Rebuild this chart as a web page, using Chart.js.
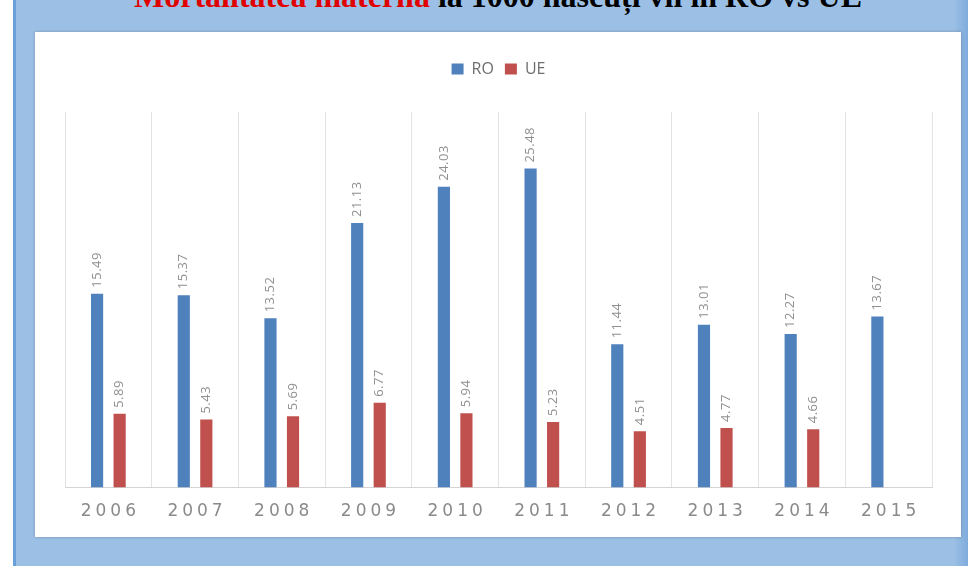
<!DOCTYPE html>
<html>
<head>
<meta charset="utf-8">
<script src="https://cdn.jsdelivr.net/npm/chart.js@4"></script>
<style>
  html, body { margin: 0; padding: 0; }
  body { width: 968px; height: 566px; background: #ffffff; position: relative; overflow: hidden; }
  #slide { position: absolute; left: 13px; top: 0; width: 955px; height: 566px;
    background: linear-gradient(to right, #9cc0e5 0%, #9cc0e5 98.5%, #7fabdc 100%);
    border-left: 3px solid #6b9fd9; box-sizing: border-box; }
  #title { position: absolute; left: 28px; width: 940px; top: -20px; text-align: center;
    font-family: "Liberation Serif", serif; font-weight: bold; font-size: 32px; line-height: 32px;
    color: #000; white-space: nowrap; }
  #title span { color: #e00000; }
  #box { position: absolute; left: 35px; top: 32px; width: 926px; height: 505px; background: #fff;
    box-shadow: 0 0 3px rgba(0,0,0,0.25); }
  canvas { display: block; }
</style>
</head>
<body>
<div id="slide"></div>
<div id="title"><span>Mortalitatea maternă</span> la 1000 născuți vii în RO vs UE</div>
<div id="box"><canvas id="chart" width="926" height="505"></canvas></div>
<script>
var years = ['2006', '2007', '2008', '2009', '2010', '2011', '2012', '2013', '2014', '2015'];
var roValues = [15.49, 15.37, 13.52, 21.13, 24.03, 25.48, 11.44, 13.01, 12.27, 13.67];
var ueValues = [5.89, 5.43, 5.69, 6.77, 5.94, 5.23, 4.51, 4.77, 4.66, null];

// labels rotated above each bar
var barLabels = {
  id: 'barLabels',
  afterDatasetsDraw: function(chart) {
    var ctx = chart.ctx;
    chart.data.datasets.forEach(function(ds, i) {
      var meta = chart.getDatasetMeta(i);
      meta.data.forEach(function(bar, j) {
        var v = ds.data[j];
        if (v === null || v === undefined) return;
        ctx.save();
        ctx.letterSpacing = '0.5px';
        ctx.translate(bar.x, bar.y - 6);
        ctx.rotate(-Math.PI / 2);
        ctx.font = '13px "Open Sans", sans-serif';
        ctx.fillStyle = '#8f8f8f';
        ctx.textAlign = 'left';
        ctx.textBaseline = 'middle';
        ctx.fillText(v.toFixed(2), 0, 0);
        ctx.restore();
      });
    });
  }
};

var spacing = {
  id: 'spacing',
  beforeInit: function(chart) {
    var fit = chart.legend.fit;
    chart.legend.fit = function() {
      fit.bind(chart.legend)();
      this.height += 25;
    };
  },
  beforeDraw: function(chart) {
    // wider letter spacing only for the year labels
    var s = chart.scales.x;
    if (!s._spaced) {
      var orig = s.drawLabels;
      s.drawLabels = function(area) {
        var c = this.ctx;
        c.save();
        c.letterSpacing = '4px';
        c.translate(2, 0);
        orig.call(this, area);
        c.restore();
      };
      s._spaced = true;
    }
  }
};

new Chart(document.getElementById('chart'), {
  type: 'bar',
  data: {
    labels: years,
    datasets: [{
      label: 'RO',
      data: roValues,
      backgroundColor: '#4f81bd',
      categoryPercentage: 0.52,
      barPercentage: 0.54
    },
    {
      label: 'UE',
      data: ueValues,
      backgroundColor: '#c0504d',
      categoryPercentage: 0.52,
      barPercentage: 0.54
    }]
  },
  options: {
    responsive: false,
    animation: false,
    layout: { padding: { left: 30, right: 29, top: 18, bottom: 1 } },
    plugins: {
      legend: {
        position: 'top',
        labels: {
          boxWidth: 12,
          boxHeight: 11,
          padding: 11,
          color: '#6e6e6e',
          font: { size: 16, family: '"Open Sans", sans-serif' }
        }
      },
      tooltip: { enabled: false }
    },
    scales: {
      x: {
        grid: { color: '#e3e3e3', drawTicks: false, offset: true },
        border: { color: '#d4d4d4' },
        ticks: {
          color: '#8a8a8a',
          padding: 14,
          font: { size: 17, family: '"DejaVu Sans", sans-serif' }
        }
      },
      y: {
        display: false,
        min: 0,
        max: 30
      }
    }
  },
  plugins: [barLabels, spacing]
});
</script>
</body>
</html>
